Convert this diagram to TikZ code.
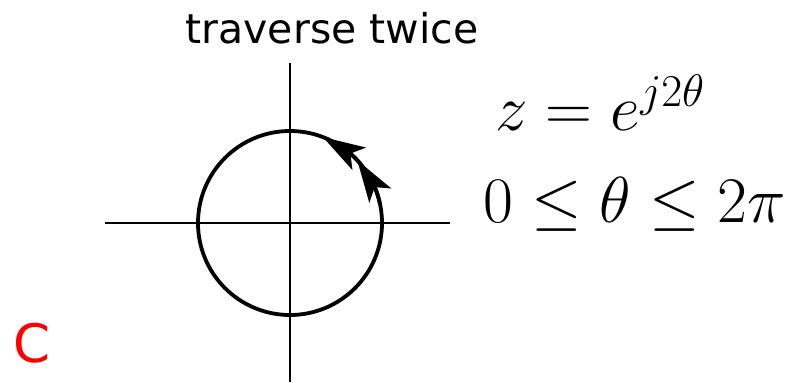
\documentclass[tikz,border=0pt]{standalone}
\usepackage{fix-cm}
\usepackage{fontspec}
\setmainfont{DejaVu Sans}
\usetikzlibrary{arrows.meta,bending,calc}
\begin{document}
\begin{tikzpicture}[x=0.5pt,y=0.5pt,
  axisline/.style={line width=1pt,black},
  curve/.style={line width=1.9pt,black},
  arrowarc/.style={line width=1.9pt,black,-{Stealth[length=21pt,width=13pt,inset=5pt,flex]}},
  titletext/.style={inner sep=0pt,anchor=base,font=\fontsize{20.5}{24}\selectfont},
  mathtext/.style={inner sep=0pt,anchor=base west,font=\fontsize{32.5}{38}\selectfont},
  labeltext/.style={inner sep=0pt,anchor=base west,text=red,font=\fontsize{26.5}{30}\selectfont}]
\useasboundingbox (0,0) rectangle (787,382);
\coordinate (O) at (290,159);
\coordinate (xl) at (105,159);
\coordinate (xr) at (450,159);
\coordinate (yt) at (290,319);
\coordinate (yb) at (290,0);
\draw[axisline] (xl) -- (xr);
\draw[axisline] (yt) -- (yb);
\draw[curve] (O) circle[radius=92];
\draw[arrowarc] ($(O)+(12:92)$) arc[start angle=12,end angle=43,radius=92];
\draw[arrowarc] ($(O)+(40:92)$) arc[start angle=40,end angle=69,radius=92];
\node[titletext] (title) at (332,339) {traverse twice};
\node[mathtext] (eq1) at (495,252) {$z = e^{j2\theta}$};
\node[mathtext] (eq2) at (483,160) {$0 \leq \theta \leq 2\pi$};
\node[labeltext] (lab) at (13,20) {C};
\end{tikzpicture}
\end{document}
